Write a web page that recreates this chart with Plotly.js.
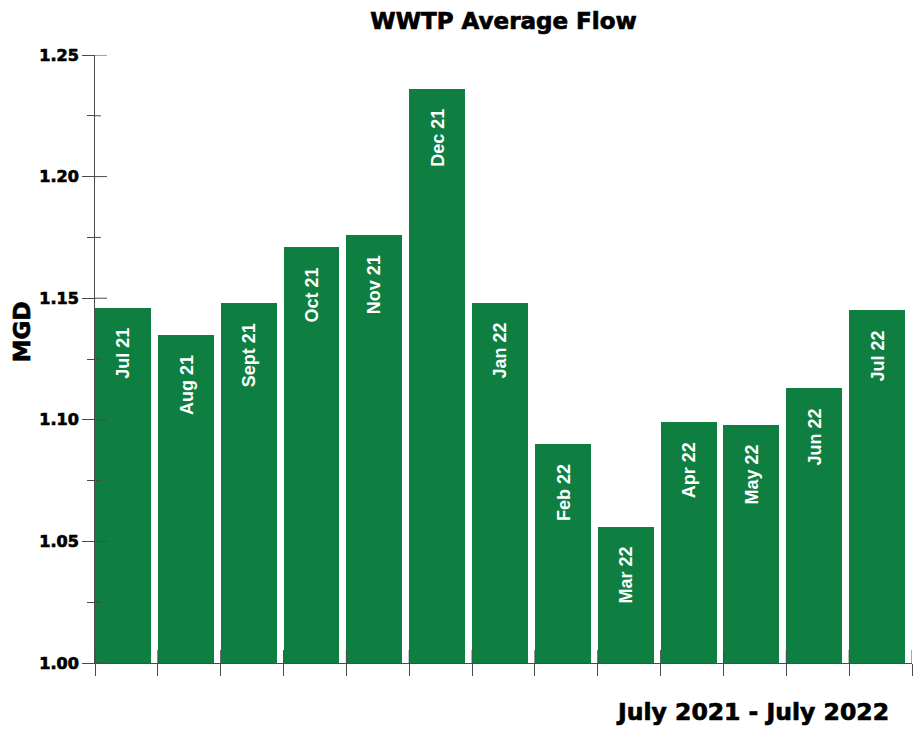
<!DOCTYPE html>
<html>
<head>
<meta charset="utf-8">
<script src="https://cdn.plot.ly/plotly-3.0.1.min.js"></script>
<style>
  html, body { margin: 0; padding: 0; background: #ffffff; }
  #chart { width: 921px; height: 730px; }
  /* heavier strokes for the black display text */
  #chart .gtitle,
  #chart .ytick text,
  #chart .heavy-text { stroke: #000000; stroke-width: 0.7px; }
</style>
</head>
<body>
<div id="chart"></div>
<script>
// Monthly average flow at the wastewater treatment plant, million gallons per day
const months = ['Jul 21', 'Aug 21', 'Sept 21', 'Oct 21', 'Nov 21', 'Dec 21', 'Jan 22',
                'Feb 22', 'Mar 22', 'Apr 22', 'May 22', 'Jun 22', 'Jul 22'];
const avgFlowMGD = [1.146, 1.135, 1.148, 1.171, 1.176, 1.236, 1.148,
                    1.090, 1.056, 1.099, 1.098, 1.113, 1.145];
const yTickVals = [1.00, 1.05, 1.10, 1.15, 1.20, 1.25];
const yTickText = ['1.00', '1.05', '1.10', '1.15', '1.20', '1.25'];

const GREEN = '#0e7f41';
const AXIS = '#4a4a4a';
const HEAVY = 'DejaVu Sans, Verdana, sans-serif';
const LABEL = 'Liberation Sans, Arial, sans-serif';
const yRange = [yTickVals[0], yTickVals[yTickVals.length - 1]];
const xRange = [-0.5, months.length - 0.5];

const bars = {
  type: 'bar',
  x: months,
  y: avgFlowMGD,
  base: 0,
  width: 0.89,
  offset: -0.5,
  marker: { color: GREEN, line: { width: 0 } },
  hoverinfo: 'skip',
  cliponaxis: true
};

const barLabels = months.map((m, i) => ({
  x: m,
  y: avgFlowMGD[i],
  xref: 'x',
  yref: 'y',
  text: m,
  textangle: -90,
  showarrow: false,
  xanchor: 'center',
  yanchor: 'top',
  xshift: -3,
  yshift: -18,
  font: { family: LABEL, size: 18, color: '#ffffff', weight: 'bold' }
}));

// The axes draw the outer half of each tick; these draw the inner half so the ticks cross the lines.
const tickLine = { color: AXIS, width: 1 };
const innerYMajor = yTickVals.map(v => ({
  type: 'line', layer: 'above', line: tickLine,
  xref: 'paper', xsizemode: 'pixel', xanchor: 0, x0: 0, x1: 12,
  yref: 'y', y0: v, y1: v
}));
const innerYMinor = yTickVals.slice(1).map((v, i) => {
  const mid = (v + yTickVals[i]) / 2;
  return {
    type: 'line', layer: 'above', line: tickLine,
    xref: 'paper', xsizemode: 'pixel', xanchor: 0, x0: 0, x1: 6,
    yref: 'y', y0: mid, y1: mid
  };
});
const innerXBoundaries = months.concat(['']).map((m, i) => ({
  type: 'line', layer: 'above', line: tickLine,
  xref: 'x', x0: i - 0.5, x1: i - 0.5,
  yref: 'y', ysizemode: 'pixel', yanchor: yRange[0], y0: 0, y1: 13
}));

const layout = {
  width: 921,
  height: 730,
  margin: { l: 95, r: 9, t: 55, b: 67, pad: 0 },
  paper_bgcolor: '#ffffff',
  plot_bgcolor: '#ffffff',
  showlegend: false,
  bargap: 0,
  title: {
    text: 'WWTP Average Flow',
    x: 0.5,
    xref: 'paper',
    y: 0.971,
    yref: 'container',
    yanchor: 'middle',
    font: { family: HEAVY, size: 23, color: '#000000', weight: 'bold' }
  },
  xaxis: {
    type: 'category',
    range: xRange,
    tickson: 'boundaries',
    ticks: 'outside',
    ticklen: 12,
    tickwidth: 1,
    tickcolor: AXIS,
    showticklabels: false,
    showgrid: false,
    zeroline: false,
    showline: true,
    linecolor: AXIS,
    linewidth: 1,
    fixedrange: true
  },
  yaxis: {
    range: yRange,
    tickmode: 'array',
    tickvals: yTickVals,
    ticktext: yTickText,
    ticks: 'outside',
    ticklen: 12,
    tickwidth: 1,
    tickcolor: AXIS,
    tickfont: { family: HEAVY, size: 16, color: '#000000', weight: 'bold' },
    minor: { tickmode: 'linear', tick0: 1.025, dtick: 0.05, ticks: 'outside', ticklen: 7, tickwidth: 1, tickcolor: AXIS, showgrid: false },
    showgrid: false,
    zeroline: false,
    showline: true,
    linecolor: AXIS,
    linewidth: 1,
    fixedrange: true
  },
  shapes: innerYMajor.concat(innerYMinor, innerXBoundaries),
  annotations: barLabels.concat([
    {
      text: 'MGD',
      xref: 'paper', yref: 'paper',
      x: -0.0893, y: 0.544,
      xanchor: 'center', yanchor: 'middle',
      textangle: -90,
      showarrow: false,
      font: { family: HEAVY, size: 23, color: '#000000', weight: 'bold' }
    },
    {
      text: 'July 2021 - July 2022',
      xref: 'paper', yref: 'paper',
      x: 0.805, y: -0.08,
      xanchor: 'center', yanchor: 'middle',
      showarrow: false,
      font: { family: HEAVY, size: 23.5, color: '#000000', weight: 'bold' }
    }
  ])
};

Plotly.newPlot('chart', [bars], layout, { staticPlot: true, displayModeBar: false }).then(gd => {
  // thicken the black axis captions to match the heavy title face
  gd.querySelectorAll('.annotation-text').forEach(t => {
    if (t.textContent === 'MGD' || t.textContent === 'July 2021 - July 2022') {
      t.classList.add('heavy-text');
    }
  });
});
</script>
</body>
</html>
